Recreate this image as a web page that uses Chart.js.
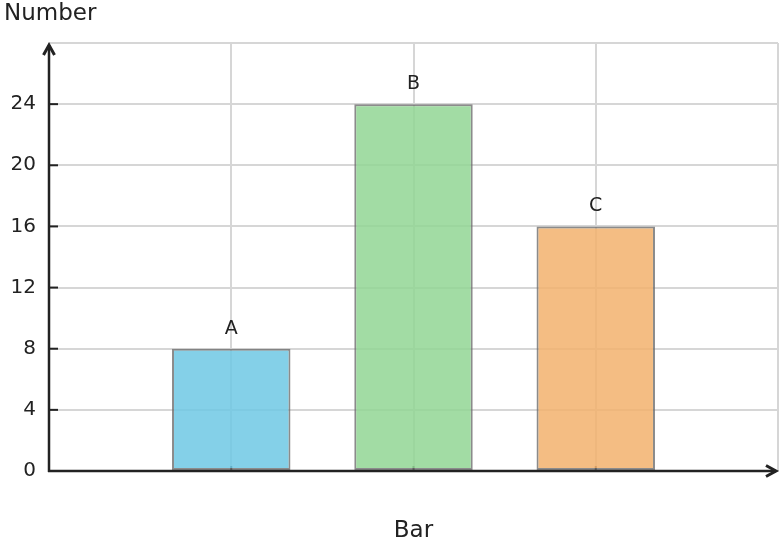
<!DOCTYPE html>
<html>
<head>
<meta charset="utf-8">
<script src="https://cdn.jsdelivr.net/npm/chart.js@4.4.0/dist/chart.umd.min.js"></script>
<style>
  html, body { margin: 0; padding: 0; background: #fff; }
  #wrap { width: 782px; height: 548px; }
</style>
</head>
<body>
<div id="wrap"><canvas id="myChart" width="782" height="548"></canvas></div>
<script>
const categories = ['A', 'B', 'C'];
const values = [8, 24, 16];
const barColors = ['rgba(110, 200, 228, 0.85)', 'rgba(146, 214, 148, 0.85)', 'rgba(242, 177, 109, 0.85)'];
const yTickLabels = [0, 4, 8, 12, 16, 20, 24];
const yMax = 28;

const axisColor = '#222';
const gridColor = '#d6d6d6';

// arrows, inward tick marks and the letters above the bars
const axisPlugin = {
    id: 'axisArrows',
    beforeDatasetsDraw(chart) {
        const ctx = chart.ctx;
        const x = chart.scales.x;
        const area = chart.chartArea;
        ctx.save();
        ctx.strokeStyle = axisColor;
        ctx.lineWidth = 2;
        categories.forEach((c, i) => {
            const px = x.getPixelForValue(i + 1);
            ctx.beginPath();
            ctx.moveTo(px, area.bottom);
            ctx.lineTo(px, area.bottom - 5);
            ctx.stroke();
        });
        ctx.restore();
    },
    afterDraw(chart) {
        const ctx = chart.ctx;
        const x = chart.scales.x;
        const y = chart.scales.y;
        const area = chart.chartArea;
        ctx.save();
        ctx.strokeStyle = axisColor;
        ctx.lineWidth = 2.5;
        ctx.lineCap = 'butt';
        // y axis
        ctx.beginPath();
        ctx.moveTo(area.left, area.bottom + 1);
        ctx.lineTo(area.left, area.top + 2);
        ctx.stroke();
        // x axis
        ctx.beginPath();
        ctx.moveTo(area.left - 1, area.bottom);
        ctx.lineTo(area.right - 2, area.bottom);
        ctx.stroke();
        // arrow heads
        ctx.lineWidth = 3;
        ctx.lineJoin = 'miter';
        ctx.beginPath();
        ctx.moveTo(area.left - 5.5, area.top + 12);
        ctx.lineTo(area.left, area.top + 2);
        ctx.lineTo(area.left + 5.5, area.top + 12);
        ctx.stroke();
        ctx.beginPath();
        ctx.moveTo(area.right - 12, area.bottom - 5.5);
        ctx.lineTo(area.right - 2, area.bottom);
        ctx.lineTo(area.right - 12, area.bottom + 5.5);
        ctx.stroke();
        // y ticks
        ctx.lineWidth = 2;
        yTickLabels.forEach(v => {
            if (v === 0) return;
            const py = y.getPixelForValue(v);
            ctx.beginPath();
            ctx.moveTo(area.left, py);
            ctx.lineTo(area.left + 9, py);
            ctx.stroke();
        });
        // bar letters
        ctx.fillStyle = axisColor;
        ctx.font = '19px "DejaVu Sans"';
        ctx.textAlign = 'center';
        ctx.textBaseline = 'middle';
        categories.forEach((c, i) => {
            ctx.fillText(c, x.getPixelForValue(i + 1), y.getPixelForValue(values[i]) - 20);
        });
        ctx.restore();
    }
};

const ctx = document.getElementById('myChart');

new Chart(ctx, {
    type: 'bar',
    data: {
        datasets: [{
            data: categories.map((c, i) => ({ x: i + 1, y: values[i] })),
            backgroundColor: barColors,
            borderColor: 'rgba(110, 110, 110, 0.8)',
            borderWidth: 2,
            borderSkipped: false,
            categoryPercentage: 1,
            barPercentage: 0.65
        }]
    },
    options: {
        responsive: false,
        maintainAspectRatio: false,
        animation: false,
        layout: {
            padding: { left: 4, right: 4, top: 0, bottom: 0 }
        },
        scales: {
            x: {
                type: 'linear',
                min: 0,
                max: categories.length + 1,
                offset: false,
                ticks: { display: false, stepSize: 1 },
                grid: { color: gridColor, lineWidth: 2, drawTicks: false, offset: false },
                border: { display: false },
                title: {
                    display: true,
                    text: 'Bar',
                    color: axisColor,
                    font: { family: 'DejaVu Sans', size: 23 },
                    padding: { top: 0, bottom: 3 }
                },
                afterFit: function(scale) { scale.height = 77; }
            },
            y: {
                min: 0,
                max: yMax,
                ticks: {
                    stepSize: 4,
                    padding: 13,
                    color: axisColor,
                    font: { family: 'DejaVu Sans', size: 20 },
                    callback: function(v) { return yTickLabels.includes(v) ? String(v) : ''; }
                },
                grid: { color: gridColor, lineWidth: 2, drawTicks: false },
                border: { display: false },
                afterFit: function(scale) { scale.width = 45; }
            }
        },
        plugins: {
            legend: { display: false },
            tooltip: { enabled: false },
            title: {
                display: true,
                text: 'Number',
                align: 'start',
                color: axisColor,
                font: { family: 'DejaVu Sans', size: 23, weight: 'normal' },
                padding: { top: 0, bottom: 15.4 }
            }
        }
    },
    plugins: [axisPlugin]
});
</script>
</body>
</html>
